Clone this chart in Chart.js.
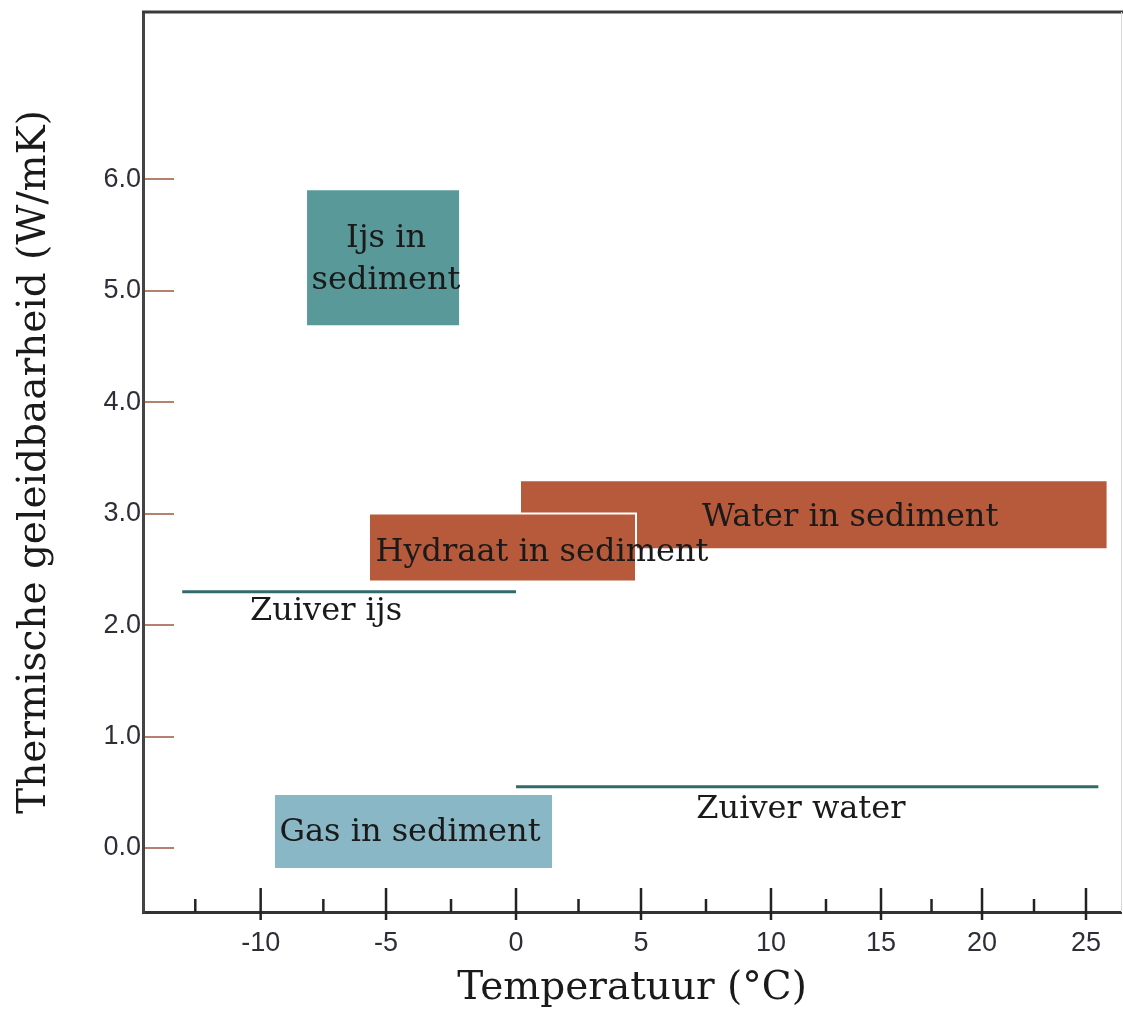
<!DOCTYPE html>
<html lang="nl">
<head>
<meta charset="utf-8">
<title>Thermische geleidbaarheid</title>
<script src="https://cdn.jsdelivr.net/npm/chart.js@4.4.1/dist/chart.umd.min.js"></script>
<style>
  html, body { margin: 0; padding: 0; background: #fff; }
  canvas { display: block; }
</style>
</head>
<body>
<canvas id="geleidbaarheidChart" width="1123" height="1012"></canvas>
<script>
// vlakken: temperatuurbereik (°C) en geleidbaarheid (W/mK)
// eerste vlak ligt bovenop (Hydraat over Water)
const boxNames    = ['Hydraat in sediment', 'Water in sediment', 'Ijs in sediment', 'Gas in sediment'];
const boxTempFrom = [-5.68, 0.2, -8.15, -9.43];
const boxTempTo   = [4.8, 26.0, -2.19, 1.44];
const boxKLow     = [2.39, 2.69, 4.69, -0.18];
const boxKHigh    = [3.00, 3.29, 5.90, 0.475];

// zuivere stoffen als lijnen
const lineNames    = ['Zuiver ijs', 'Zuiver water'];
const lineTempFrom = [-13.0, 0];
const lineTempTo   = [0, 25.6];
const lineK        = [2.3, 0.55];

// teksten in de grafiek
const labelTexts = ['Ijs in\nsediment', 'Water in sediment', 'Hydraat in sediment', 'Zuiver ijs', 'Zuiver water', 'Gas in sediment'];
const labelTemp  = [-5.0, 13.6, 1.04, -7.39, 11.36, -4.08];
const labelK     = [5.28, 2.96, 2.65, 2.12, 0.34, 0.14];

const xTickValues = [-10, -5, 0, 5, 10, 15, 20, 25];
const yTickValues = [0, 1, 2, 3, 4, 5, 6];

const boxColors = ['#b75a3b', '#b75a3b', '#5a999a', '#89b7c6'];
const boxBorders = ['#ffffff', '#b75a3b', '#5a999a', '#89b7c6'];

// de x-as van het origineel is niet gelijkmatig verdeeld
const xWarp = {
    values: [-14.5, -10, -5, 0, 5, 10, 15, 20, 25, 26.7],
    pos:    [0, 0.1203, 0.2485, 0.3814, 0.5092, 0.6421, 0.7546, 0.8579, 0.9642, 1]
};

class WarpedScale extends Chart.LinearScale {
    getPixelForValue(value) {
        if (value === null || value === undefined) return NaN;
        const v = xWarp.values, p = xWarp.pos;
        let i = 0;
        while (i < v.length - 2 && value > v[i + 1]) i++;
        const dec = p[i] + (value - v[i]) / (v[i + 1] - v[i]) * (p[i + 1] - p[i]);
        return this.getPixelForDecimal(dec);
    }
    getValueForPixel(pixel) {
        const dec = this.getDecimalForPixel(pixel);
        const v = xWarp.values, p = xWarp.pos;
        let i = 0;
        while (i < p.length - 2 && dec > p[i + 1]) i++;
        return v[i] + (dec - p[i]) / (p[i + 1] - p[i]) * (v[i + 1] - v[i]);
    }
}
WarpedScale.id = 'warped';
WarpedScale.defaults = Chart.LinearScale.defaults;
Chart.register(WarpedScale);

const datasets = [];
boxNames.forEach(function (name, i) {
    const x0 = boxTempFrom[i], x1 = boxTempTo[i];
    const y0 = boxKLow[i], y1 = boxKHigh[i];
    datasets.push({
        label: name,
        data: [{x: x0, y: y1}, {x: x1, y: y1}, {x: x1, y: y0}, {x: x0, y: y0}, {x: x0, y: y1}],
        fill: 'shape',
        backgroundColor: boxColors[i],
        borderColor: boxBorders[i],
        borderWidth: i === 0 ? 2 : 0,
        pointRadius: 0,
        tension: 0
    });
});
lineNames.forEach(function (name, i) {
    datasets.push({
        label: name,
        data: [{x: lineTempFrom[i], y: lineK[i]}, {x: lineTempTo[i], y: lineK[i]}],
        fill: false,
        borderColor: '#2f6b6b',
        borderWidth: 3,
        pointRadius: 0
    });
});

// kader, tickstreepjes binnen het vlak en de teksten
const frameAndLabels = {
    id: 'frameAndLabels',
    afterDatasetsDraw(chart) {
        const {ctx, chartArea: a, scales: {x, y}} = chart;
        ctx.save();
        ctx.lineCap = 'butt';

        ctx.strokeStyle = '#3a3a3a';
        ctx.lineWidth = 3;
        ctx.beginPath();
        ctx.moveTo(a.left - 1, a.top);
        ctx.lineTo(chart.width, a.top);
        ctx.stroke();

        ctx.strokeStyle = '#d8d8d8';
        ctx.lineWidth = 1;
        ctx.beginPath();
        ctx.moveTo(a.right + 0.5, a.top);
        ctx.lineTo(a.right + 0.5, a.bottom);
        ctx.stroke();

        ctx.strokeStyle = '#b4806f';
        ctx.lineWidth = 2;
        yTickValues.forEach(function (v) {
            const py = Math.round(y.getPixelForValue(v));
            ctx.beginPath();
            ctx.moveTo(a.left + 2, py);
            ctx.lineTo(a.left + 31, py);
            ctx.stroke();
        });

        ctx.strokeStyle = '#222';
        ctx.lineWidth = 2.5;
        xTickValues.forEach(function (v) {
            const px = x.getPixelForValue(v);
            ctx.beginPath();
            ctx.moveTo(px, a.bottom - 24);
            ctx.lineTo(px, a.bottom + 8);
            ctx.stroke();
            const pm = x.getPixelForValue(v - 2.5);
            ctx.beginPath();
            ctx.moveTo(pm, a.bottom - 13);
            ctx.lineTo(pm, a.bottom);
            ctx.stroke();
        });

        ctx.fillStyle = '#1a1a1a';
        ctx.font = '32px "DejaVu Serif"';
        ctx.textAlign = 'center';
        ctx.textBaseline = 'middle';
        labelTexts.forEach(function (t, i) {
            const lines = t.split('\n');
            const cx = x.getPixelForValue(labelTemp[i]);
            const cy = y.getPixelForValue(labelK[i]);
            lines.forEach(function (line, j) {
                ctx.fillText(line, cx, cy + (j - (lines.length - 1) / 2) * 42);
            });
        });
        ctx.restore();
    }
};

const tickFont = { family: 'Liberation Sans', size: 27 };

new Chart(document.getElementById('geleidbaarheidChart'), {
    type: 'line',
    data: { datasets: datasets },
    options: {
        responsive: false,
        animation: false,
        layout: { padding: { top: 12, right: 2, left: 0, bottom: 0 } },
        plugins: {
            legend: { display: false },
            tooltip: { enabled: false }
        },
        scales: {
            x: {
                type: 'warped',
                min: -14.5,
                max: 26.7,
                afterBuildTicks: function (s) { s.ticks = xTickValues.map(v => ({ value: v })); },
                afterFit: function (s) { s.height = 100; s.paddingLeft = 0; s.paddingRight = 0; },
                grid: { drawOnChartArea: false, drawTicks: false },
                border: { display: true, color: '#333', width: 3 },
                ticks: {
                    autoSkip: false, maxRotation: 0, padding: 15,
                    color: '#2e2e38', font: tickFont,
                    callback: v => String(v)
                },
                title: {
                    display: true,
                    text: 'Temperatuur (°C)',
                    color: '#1a1a1a',
                    font: { family: 'DejaVu Serif', size: 39 },
                    padding: { top: 0, bottom: 0 }
                }
            },
            y: {
                min: -0.574,
                max: 7.5,
                afterBuildTicks: function (s) { s.ticks = yTickValues.map(v => ({ value: v })); },
                afterFit: function (s) { s.width = 143; s.paddingTop = 0; s.paddingBottom = 0; },
                grid: { drawOnChartArea: false, drawTicks: false },
                border: { display: true, color: '#444', width: 3 },
                ticks: {
                    padding: 2,
                    color: '#2e2e38', font: tickFont,
                    callback: v => v.toFixed(1)
                },
                title: {
                    display: true,
                    text: 'Thermische geleidbaarheid (W/mK)',
                    color: '#1a1a1a',
                    font: { family: 'DejaVu Serif', size: 39 },
                    padding: { top: 11, bottom: 0 }
                }
            }
        }
    },
    plugins: [frameAndLabels]
});
</script>
</body>
</html>
